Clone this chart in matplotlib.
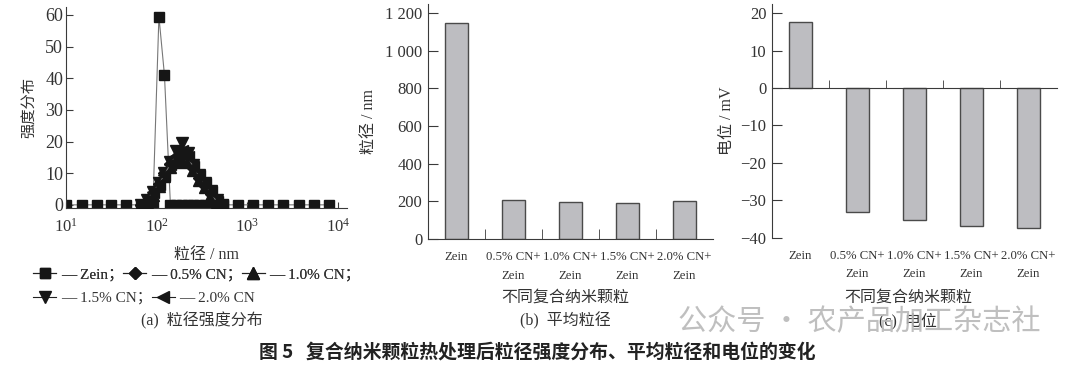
import matplotlib.pyplot as plt
from matplotlib.lines import Line2D
from matplotlib.ticker import FuncFormatter, FixedLocator, NullLocator

plt.rcParams['font.family'] = ['Liberation Serif', 'Noto Sans CJK SC']
plt.rcParams['axes.unicode_minus'] = True

CJK = ['Noto Sans CJK SC', 'DejaVu Sans']
TXT = '#333333'
SPINE = '#3a3a3a'

# (a) intensity distribution, size in nm
size_zein = [10, 15, 22, 31, 46, 68, 91, 106, 122, 142, 164, 190, 220, 255,
             295, 342, 396, 540, 800, 1165, 1710, 2500, 3760, 5500, 8050]
int_zein = [0, 0, 0, 0, 0, 0, 0, 59.5, 41, 0, 0, 0, 0, 0,
            0, 0, 0, 0, 0, 0, 0, 0, 0, 0, 0]
size_cn = [68, 79, 91, 106, 122, 142, 164, 190, 220, 255, 295, 342, 396, 459, 531]
int_cn05 = [0, 1, 3.5, 6.5, 10, 13, 15, 16, 14.5, 11.5, 8.5, 6, 3.5, 1, 0]
int_cn10 = [0, 0.5, 3, 6, 9, 12, 14.5, 13.5, 14, 11, 8, 5.5, 3, 0.5, 0]
int_cn15 = [0, 1.5, 4, 7, 10, 13.5, 17, 19.5, 16.5, 12.5, 9.5, 7, 4.5, 1.5, 0]
int_cn20 = [0, 1.5, 4, 6.5, 9.5, 13, 15.5, 17, 15, 12, 9, 6.5, 4, 1, 0]

# (b) mean size and (c) zeta potential
groups = ['Zein', '0.5% CN+\nZein', '1.0% CN+\nZein', '1.5% CN+\nZein', '2.0% CN+\nZein']
mean_size = [1147, 205, 195, 190, 200]
zeta = [17.7, -33.0, -35.3, -36.7, -37.4]

fig = plt.figure(figsize=(10.8, 3.67), dpi=100)

# ---------- panel a ----------
ax1 = fig.add_axes([0.0611, 0.4332, 0.2602, 0.5477])
ax1.plot(size_zein, int_zein, color='#777777', lw=0.8, marker='s', ms=7.3,
         mfc='#161616', mec='#161616', zorder=2)
series = [(int_cn05, 'D', 6.5), (int_cn10, '^', 8.5),
          (int_cn15, 'v', 8.5), (int_cn20, '<', 8.5)]
for vals, mk, ms in series:
    ax1.plot(size_cn, vals, color='#777777', lw=0.8, marker=mk, ms=ms,
             mfc='#161616', mec='#161616', zorder=3)
ax1.set_xscale('log')
ax1.set_xlim(10, 1.26e4)
ax1.set_ylim(-1, 62.5)
ax1.set_yticks([0, 10, 20, 30, 40, 50, 60])
ax1.xaxis.set_minor_locator(NullLocator())
ax1.spines[['top', 'right']].set_visible(False)
for s in ['left', 'bottom']:
    ax1.spines[s].set_color(SPINE)
ax1.tick_params(axis='y', direction='in', length=5, pad=2, labelsize=13,
                colors=SPINE, labelcolor=TXT)
ax1.tick_params(axis='x', direction='in', length=4, pad=7, labelsize=12,
                colors=SPINE, labelcolor=TXT)
ax1.set_ylabel('强度分布', family=CJK, fontsize=11, color=TXT, labelpad=6)
ax1.set_xlabel('粒径 / nm', fontsize=11.5, color=TXT, labelpad=8)

h_zein = Line2D([], [], color='#222222', lw=0.8, marker='s', ms=7, mfc='#161616', mec='#161616')
h05 = Line2D([], [], color='#222222', lw=0.8, marker='D', ms=6, mfc='#161616', mec='#161616')
h10 = Line2D([], [], color='#222222', lw=0.8, marker='^', ms=8, mfc='#161616', mec='#161616')
h15 = Line2D([], [], color='#222222', lw=0.8, marker='v', ms=8, mfc='#161616', mec='#161616')
h20 = Line2D([], [], color='#222222', lw=0.8, marker='<', ms=8, mfc='#161616', mec='#161616')
leg_prop = {'family': ['Liberation Serif', 'Noto Sans CJK SC'], 'size': 11}
leg1 = fig.legend([h_zein, h05, h10], ['— Zein；', '— 0.5% CN；', '— 1.0% CN；'],
                  loc='center left', bbox_to_anchor=(0.031, 0.2507), ncol=3,
                  frameon=False, handlelength=1.5, handletextpad=0.3,
                  columnspacing=0.0, borderpad=0, borderaxespad=0, prop=leg_prop,
                  labelcolor=TXT)
fig.add_artist(leg1)
fig.legend([h15, h20], ['— 1.5% CN；', '— 2.0% CN'],
           loc='center left', bbox_to_anchor=(0.031, 0.188), ncol=2,
           frameon=False, handlelength=1.5, handletextpad=0.3,
           columnspacing=0.0, borderpad=0, borderaxespad=0, prop=leg_prop,
           labelcolor=TXT)
fig.text(0.187, 1 - 321 / 367, '(a)  粒径强度分布', ha='center', va='center',
         fontsize=11.5, color=TXT)


def style_bar_axes(ax):
    ax.spines[['top', 'right']].set_visible(False)
    for s in ['left', 'bottom']:
        ax.spines[s].set_color(SPINE)
    ax.set_xlim(-0.5, len(groups) - 0.5)
    ax.xaxis.set_minor_locator(FixedLocator([i + 0.5 for i in range(len(groups) - 1)]))
    ax.tick_params(axis='y', direction='in', length=7, pad=4, labelsize=12,
                   colors=SPINE, labelcolor=TXT)
    ax.tick_params(axis='x', which='minor', direction='in', length=7, colors=SPINE)


# ---------- panel b ----------
ax2 = fig.add_axes([0.3963, 0.3488, 0.2639, 0.6403])
ax2.bar(range(len(groups)), mean_size, width=0.42, color='#bdbdc1',
        edgecolor='#4a4a4a', linewidth=1.0)
style_bar_axes(ax2)
ax2.set_ylim(0, 1248)
ax2.set_yticks(range(0, 1201, 200))
ax2.yaxis.set_major_formatter(FuncFormatter(
    lambda v, p: f'{int(v):,}'.replace(',', ' ')))
ax2.set_xticks(range(len(groups)), groups)
ax2.tick_params(axis='x', which='major', length=0, pad=9, labelsize=9.2,
                labelcolor=TXT)
for lab in ax2.get_xticklabels():
    lab.set_linespacing(1.7)
ax2.set_ylabel('粒径 / nm', fontsize=11.5, color=TXT, labelpad=6)
fig.text(565 / 1080, 1 - 297 / 367, '不同复合纳米颗粒', family=CJK, ha='center',
         va='center', fontsize=11.5, color=TXT)
fig.text(565 / 1080, 1 - 321 / 367, '(b)  平均粒径', ha='center', va='center',
         fontsize=11.5, color=TXT)

# ---------- panel c ----------
ax3 = fig.add_axes([0.7148, 0.3515, 0.2639, 0.6376])
ax3.bar(range(len(groups)), zeta, width=0.42, color='#bdbdc1',
        edgecolor='#4a4a4a', linewidth=1.0)
style_bar_axes(ax3)
ax3.set_ylim(-40, 22.4)
ax3.set_yticks(range(-40, 21, 10))
ax3.spines['bottom'].set_position(('data', 0))
ax3.set_xticks([])
ax3.tick_params(axis='x', which='minor', length=6)
sec = ax3.secondary_xaxis(0)
sec.set_xticks(range(len(groups)), groups)
sec.tick_params(length=0, pad=8.5, labelsize=9.2, labelcolor=TXT)
sec.spines['bottom'].set_visible(False)
for lab in sec.get_xticklabels():
    lab.set_linespacing(1.7)
ax3.set_ylabel('电位 / mV', fontsize=11.5, color=TXT, labelpad=4)
fig.text(908 / 1080, 1 - 297 / 367, '不同复合纳米颗粒', family=CJK, ha='center',
         va='center', fontsize=11.5, color=TXT)
fig.text(908 / 1080, 1 - 321 / 367, '(c)  电位', ha='center', va='center',
         fontsize=11.5, color=TXT)

# watermark and figure title
fig.text(0.628, 1 - 322 / 367, '公众号 · 农产品加工杂志社', family=CJK, ha='left',
         va='center', fontsize=21, color='#b8b8b8', alpha=0.9, zorder=10)
fig.text(537 / 1080, 1 - 352 / 367,
         '图 5   复合纳米颗粒热处理后粒径强度分布、平均粒径和电位的变化',
         family=CJK, ha='center', va='center', fontsize=13.6, fontweight='bold',
         color='#222222')

fig.savefig('out.png', dpi=100)
